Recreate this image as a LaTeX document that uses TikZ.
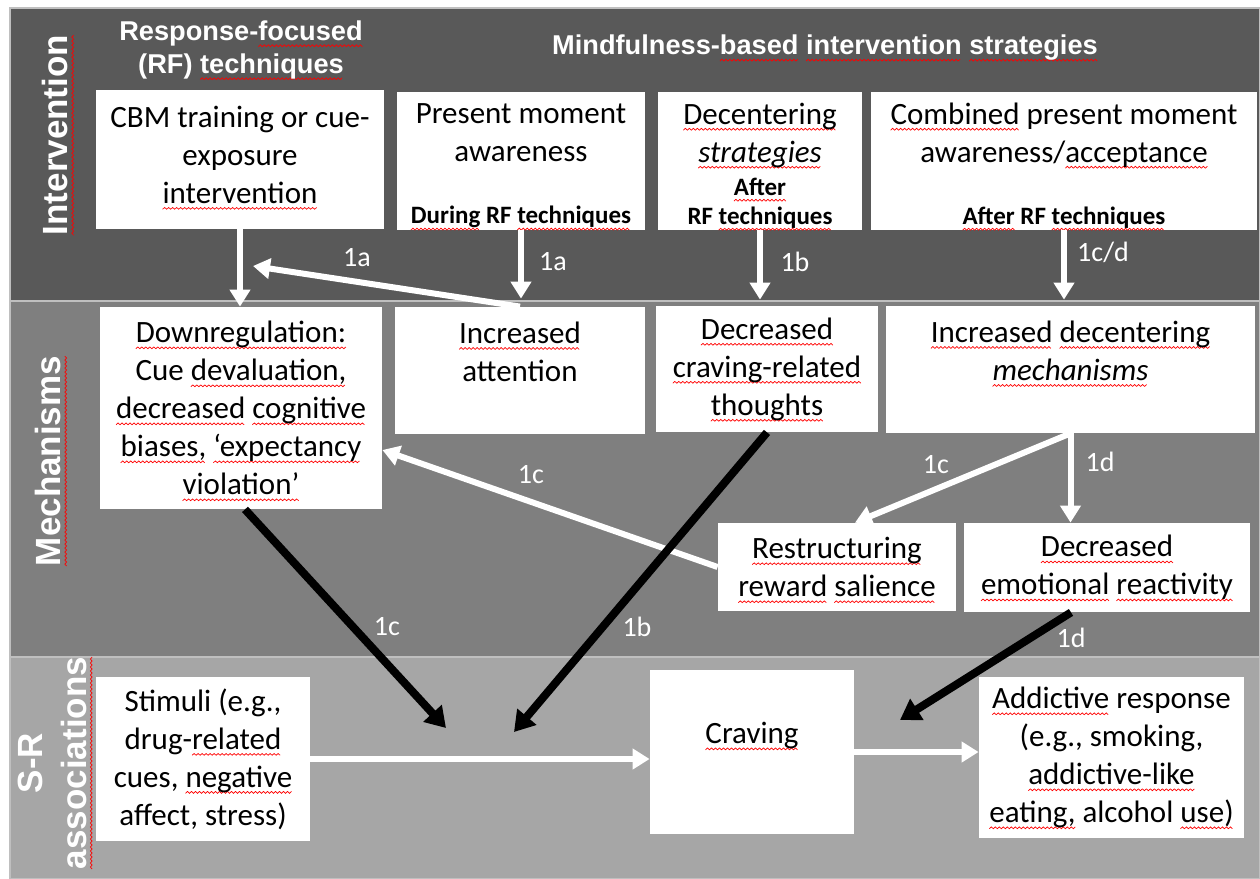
\documentclass[tikz,border=0pt]{standalone}
\usepackage{fontspec}
\setmainfont{Carlito}
\newfontfamily\hdfont{Liberation Sans}
\usetikzlibrary{arrows.meta}

% red spell-check wave under a word
\newsavebox\sqbox
\newcommand\sq[1]{\sbox\sqbox{#1}\pgfmathtruncatemacro\sqn{\wd\sqbox}\pgfmathtruncatemacro\sqm{\sqn+1}%
	\tikz[overlay, x=1pt, y=1pt, baseline=0pt]\draw[red, line width=0.35pt] plot[domain=0:\sqn, samples=\sqm] (\x,{-2.6+0.45*(2*mod(round(\x),2)-1)});%
	\usebox\sqbox}
\newcommand\rfnote[1]{{\fontsize{12.5}{14.5}\selectfont\bfseries #1}}

\definecolor{bandA}{HTML}{595959}
\definecolor{bandB}{HTML}{7F7F7F}
\definecolor{bandC}{HTML}{A6A6A6}

\tikzset{
	blk/.style 2 args={fill=white, inner sep=0pt, align=flush center, text width=#1, minimum height=#2, font=\fontsize{15.5}{19}\selectfont},
	hd/.style={text=white, align=flush center, inner sep=0pt, font=\hdfont\bfseries\fontsize{13.6}{16.5}\selectfont},
	side/.style={text=white, rotate=90, align=flush center, inner sep=0pt, font=\hdfont\bfseries\fontsize{17.5}{22}\selectfont},
	lbl/.style={text=white, inner sep=0pt, font=\fontsize{14}{17}\selectfont},
	warr/.style={draw=white, line width=3pt, -{Triangle[width=10pt,length=8.5pt]}},
	barr/.style={draw=black, line width=4pt, -{Triangle[width=12pt,length=10pt]}}
}

\begin{document}
\begin{tikzpicture}[x=0.5pt, y=-0.5pt]
	\useasboundingbox (0,0) rectangle (1260,879);
	\fill[white] (0,0) rectangle (1260,879);

	% bands
	\filldraw[fill=bandA, draw=black!25, line width=0.8pt] (10,8) rectangle (1260,301);
	\filldraw[fill=bandB, draw=black!25, line width=0.8pt] (10,301) rectangle (1260,657);
	\filldraw[fill=bandC, draw=black!25, line width=0.8pt] (10,657) rectangle (1260,879);

	\node[side] (lint) at (55,135) {\sq{Intervention}};
	\node[side] (lmech) at (48,461) {\sq{Mechanisms}};
	\node[side] (lsr) at (52,763) {S-R\\\sq{associations}};

	\node[hd] (rfhd) at (241,50) {Response-\sq{focused}\\(RF) \sq{techniques}};
	\node[hd] (mbhd) at (825,48) {Mindfulness-\sq{based} \sq{intervention} \sq{strategies}};

	% intervention
	\node[blk={144pt}{69.5pt}] (cbm) at (240,159.5) {CBM training or cue-\\exposure\\\sq{intervention}\rule[-5pt]{0pt}{5pt}};
	\node[blk={124pt}{69pt}] (pma) at (521,161) {\rule{0pt}{15pt}Present moment\\awareness\\[12pt]\rfnote{\sq{During} RF \sq{techniques}}};
	\node[blk={102pt}{69pt}] (dcs) at (760,161) {\rule{0pt}{15pt}\sq{Decentering}\\\textit{\sq{strategies}}\\[-2.5pt]\rfnote{\sq{After}}\\[-4.5pt]\rfnote{RF \sq{techniques}}};
	\node[blk={193pt}{69pt}] (cpa) at (1064,161) {\rule{0pt}{15pt}\sq{Combined} present moment\\awareness/\sq{acceptance}\\[12pt]\rfnote{\sq{After} RF \sq{techniques}}};

	% mechanisms
	\node[blk={141pt}{101pt}] (dreg) at (241,408) {\sq{Downregulation:}\\Cue \sq{devaluation,}\\\sq{decreased} \sq{cognitive}\\\sq{biases,} \sq{‘expectancy}\\\sq{violation’}};
	\node[blk={125pt}{63.5pt}] (iatt) at (520,370.5) {\sq{Increased}\\attention\\\mbox{}};
	\node[blk={111pt}{63pt}] (dcrt) at (767,369) {\sq{Decreased}\\\sq{craving-related}\\\sq{thoughts}};
	\node[blk={184.5pt}{63.5pt}] (idcm) at (1070.5,369.5) {\sq{Increased} \sq{decentering}\\\textit{\sq{mechanisms}}\\\mbox{}};
	\node[blk={119pt}{44pt}] (rrs) at (837,567) {\sq{Restructuring}\\\sq{reward} \sq{salience}};
	\node[blk={143pt}{44.5pt}] (der) at (1107,567.5) {\sq{Decreased}\\\sq{emotional} \sq{reactivity}};

	% S-R associations
	\node[blk={107pt}{82pt}] (stim) at (203,759) {Stimuli (e.g.,\\drug-\sq{related}\\cues, \sq{negative}\\affect, stress)};
	\node[blk={102pt}{82pt}] (crv) at (752,752) {\sq{Craving}\\\mbox{}};
	\node[blk={132.5pt}{80.5pt}] (adr) at (1111.5,757.5) {\sq{Addictive} response\\(e.g., smoking,\\\sq{addictive-like}\\\sq{eating,} alcohol \sq{use)}};

	\coordinate (t1a) at (253,266);
	\coordinate (t1c) at (446,728);
	\coordinate (t1b) at (514,732);
	\coordinate (t1d) at (900,720);

	\draw[warr] (cbm.south) -- (cbm.south |- dreg.north);
	\draw[warr] (iatt.north) -- (t1a);
	\draw[warr, shorten >=4pt] (pma.south) -- (pma.south |- iatt.north);
	\draw[warr, shorten >=3pt] (dcs.south) -- (dcs.south |- dcrt.north);
	\draw[warr, shorten >=3pt] (cpa.south) -- (cpa.south |- idcm.north);
	\draw[warr] (idcm.south) -- ([xshift=9pt]rrs.north);
	\draw[warr] (idcm.south) -- (idcm.south |- der.north);
	\draw[warr] (rrs.west) -- ([yshift=-21pt]dreg.east);
	\draw[warr] (stim.east) -- (stim.east -| crv.west);
	\draw[warr] (crv.east) -- (crv.east -| adr.west);

	\draw[barr] ([xshift=2pt]dreg.south) -- (t1c);
	\draw[barr] (dcrt.south) -- (t1b);
	\draw[barr] ([xshift=-18pt]der.south) -- (t1d);

	\node[lbl] (n1) at (357,258) {1a};
	\node[lbl] (n2) at (553,262) {1a};
	\node[lbl] (n3) at (795,262) {1b};
	\node[lbl] (n4) at (1103,252) {1c/d};
	\node[lbl] (n5) at (531,475) {1c};
	\node[lbl] (n6) at (936,465) {1c};
	\node[lbl] (n7) at (1100,462) {1d};
	\node[lbl] (n8) at (387,627) {1c};
	\node[lbl] (n9) at (637,627) {1b};
	\node[lbl] (n10) at (1071,638) {1d};
\end{tikzpicture}
\end{document}
